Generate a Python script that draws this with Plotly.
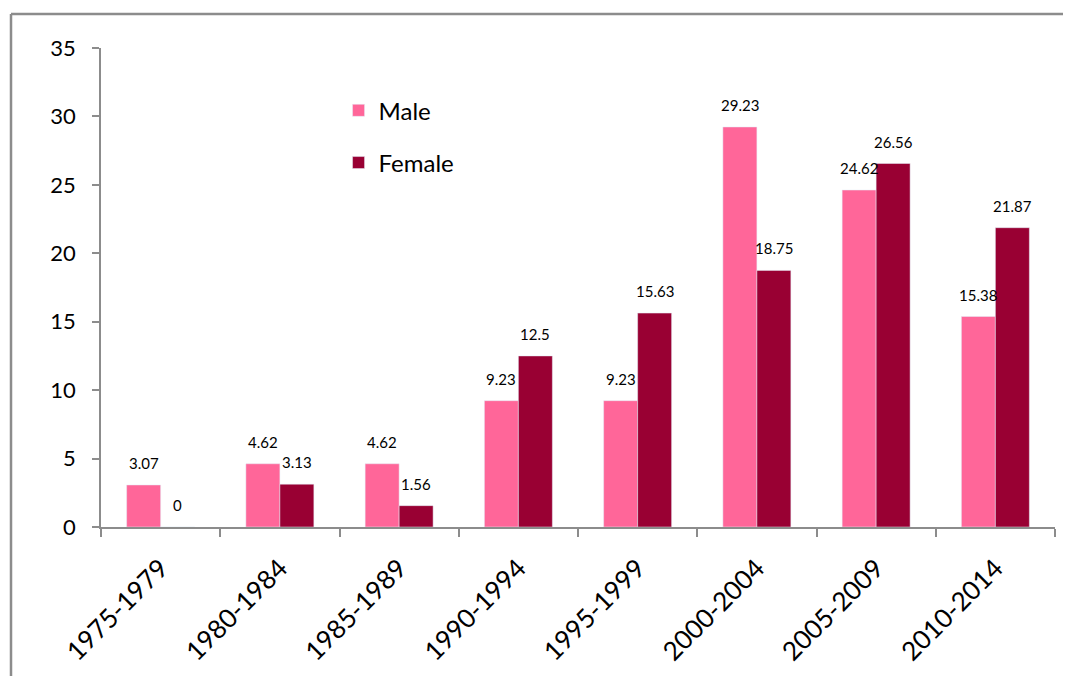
import plotly.graph_objects as go

categories = ["1975-1979", "1980-1984", "1985-1989", "1990-1994",
              "1995-1999", "2000-2004", "2005-2009", "2010-2014"]
male = [3.07, 4.62, 4.62, 9.23, 9.23, 29.23, 24.62, 15.38]
female = [0, 3.13, 1.56, 12.5, 15.63, 18.75, 26.56, 21.87]

MALE_C = "#FF6699"
FEMALE_C = "#990033"
FONT = "Lato, Open Sans, sans-serif"

fig = go.Figure()
fig.add_trace(go.Bar(x=categories, y=male, name="Male", marker_color=MALE_C,
                     legendgroup="m"))
fig.add_trace(go.Bar(x=categories, y=female, name="Female", marker_color=FEMALE_C,
                     legendgroup="f"))

annotations = []
for c, v in zip(categories, male):
    annotations.append(dict(x=c, y=v, text=f"{v:g}", showarrow=False, xref="x", yref="y",
                            xshift=-17, yshift=22, font=dict(size=15, color="#000", family=FONT)))
for c, v in zip(categories, female):
    annotations.append(dict(x=c, y=v, text=f"{v:g}", showarrow=False, xref="x", yref="y",
                            xshift=17, yshift=22, font=dict(size=15, color="#000", family=FONT)))

top = (527 - 14) / 479
left = (11 - 101) / 954
fig.update_layout(
    width=1055, height=668,
    margin=dict(l=93, r=8, t=40, b=149),
    paper_bgcolor="white", plot_bgcolor="white",
    barmode="group", bargap=0.43, bargroupgap=0,
    font=dict(family=FONT, color="#000"),
    showlegend=True,
    legend=dict(x=0.249, y=0.916, xanchor="left", yanchor="top",
                font=dict(size=24, family=FONT), tracegroupgap=18,
                bgcolor="rgba(0,0,0,0)", itemwidth=30),
    annotations=annotations,
    shapes=[
        dict(type="line", xref="paper", yref="paper", x0=left, x1=1.3, y0=top, y1=top,
             line=dict(color="#8c8c8c", width=2.5), layer="below"),
        dict(type="line", xref="paper", yref="paper", x0=left, x1=left, y0=-1, y1=top,
             line=dict(color="#8c8c8c", width=2.5), layer="below"),
    ],
)
fig.update_xaxes(showline=True, linecolor="#8c8c8c", linewidth=1.5,
                 ticks="outside", tickson="boundaries", ticklen=8, tickcolor="#8c8c8c",
                 tickwidth=1.5, tickangle=-45, tickfont=dict(size=26, family=FONT),
                 showgrid=False, ticklabelstandoff=14)
fig.update_yaxes(range=[0, 35], dtick=5, showline=True, linecolor="#8c8c8c", linewidth=1.5,
                 ticks="outside", ticklen=7, tickcolor="#8c8c8c", tickwidth=1.5,
                 tickfont=dict(size=22, family=FONT), showgrid=False, zeroline=False,
                 ticklabelstandoff=12)

fig.write_html("out.html")
